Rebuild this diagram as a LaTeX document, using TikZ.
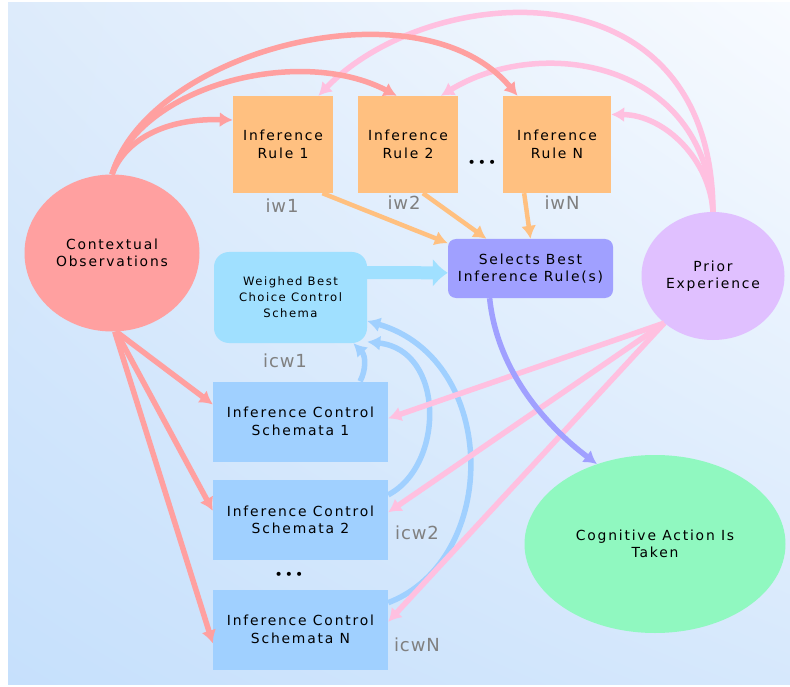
\documentclass[tikz,border=0pt]{standalone}
\usepackage{fontspec}
\setmainfont{DejaVu Sans}[LetterSpace=13]
\newfontfamily\labelfont{DejaVu Sans}[LetterSpace=5]
\usepackage{tikz}
\definecolor{bgtl}{HTML}{DDEBFB}
\definecolor{bgtr}{HTML}{F8FBFF}
\definecolor{bgbl}{HTML}{C6E0FC}
\definecolor{bgbr}{HTML}{D6E8FC}
\definecolor{salmonred}{HTML}{FFA0A0}
\definecolor{rulesorange}{HTML}{FFC080}
\definecolor{selectblue}{HTML}{A0A0FF}
\definecolor{weighblue}{HTML}{A0E0FF}
\definecolor{schemablue}{HTML}{A0D0FF}
\definecolor{priorlilac}{HTML}{E0C0FF}
\definecolor{actiongreen}{HTML}{90F8C0}
\definecolor{arrowpink}{HTML}{FFC0E0}
\definecolor{labelgray}{HTML}{808080}
\usetikzlibrary{arrows.meta, shapes.geometric, shadings}

\begin{document}
\begin{tikzpicture}[x=1pt, y=-1pt,
		>={Latex[length=13pt,width=15pt]},   %Pfeilspitzen
		font=\fontsize{13.9}{17.5}\selectfont, text=black,
		regel/.style={fill=rulesorange, inner sep=0pt, align=center, minimum width=#1, minimum height=97pt},
		schema/.style={fill=schemablue, inner sep=0pt, align=center, minimum width=175pt, minimum height=80pt},
		kreis/.style={ellipse, inner sep=0pt, align=center},
		gewicht/.style={text=labelgray, font=\labelfont\fontsize{18}{20}\selectfont},
		pfeil/.style={->, line width=5.5pt, draw=#1}, pfeil/.default=salmonred]
		%Hintergrund
		\useasboundingbox (0,0) rectangle (790,687);
		\shade[upper left=bgtl, upper right=bgtr, lower left=bgbl, lower right=bgbr] (8,3) rectangle (790,684);
		% Knoten
		\node[kreis, fill=salmonred, minimum width=175pt, minimum height=157pt] (kontext) at (112,253) {Contextual\\Observations};
		\node[regel=100pt] (regel1) at (283,144.5) {Inference\\Rule 1};
		\node[regel=100pt] (regel2) at (408,144.5) {Inference\\Rule 2};
		\node[regel=108pt] (regelN) at (557,144.5) {Inference\\Rule N};
		\node (punkteR) at (482,164) {\textbullet\hspace{2pt}\textbullet\hspace{2pt}\textbullet};
		\node[fill=selectblue, rounded corners=8pt, inner sep=0pt, align=center, minimum width=165pt, minimum height=59pt] (auswahl) at (530.5,268.5) {Selects Best\\Inference Rule(s)};
		\node[fill=weighblue, rounded corners=15pt, inner sep=0pt, align=center, minimum width=153pt, minimum height=91pt, font=\fontsize{11.6}{16}\selectfont] (gewichtet) at (290.5,297.5) {Weighed Best\\Choice Control\\Schema};
		\node[schema] (schema1) at (300.5,421.5) {Inference Control\\Schemata 1};
		\node[schema] (schema2) at (300.5,520) {Inference Control\\Schemata 2};
		\node (punkteS) at (289,576) {\textbullet\hspace{2pt}\textbullet\hspace{2pt}\textbullet};
		\node[schema] (schemaN) at (300.5,629.5) {Inference Control\\Schemata N};
		\node[kreis, fill=priorlilac, minimum width=143pt, minimum height=128pt] (erfahrung) at (713,276) {Prior\\Experience};
		\node[kreis, fill=actiongreen, minimum width=261pt, minimum height=178pt] (aktion) at (655,544) {Cognitive Action Is\\Taken};
		% Gewichte
		\node[gewicht] (iw1) at (282,206) {iw1};
		\node[gewicht] (iw2) at (404,203) {iw2};
		\node[gewicht] (iwN) at (562,203) {iwN};
		\node[gewicht] (icw1) at (285,361) {icw1};
		\node[gewicht] (icw2) at (417,533) {icw2};
		\node[gewicht] (icwN) at (417,645) {icwN};
		% Schemata -> Auswahl
		\draw[pfeil=schemablue] (schema1.34) .. controls (366,370) and (366,356) .. (gewichtet.-36);
		\draw[pfeil=schemablue] (schema2.16) .. controls (445,465) and (445,350) .. (gewichtet.-30);
		\draw[pfeil=schemablue] (schemaN.17) .. controls (500,560) and (500,360) .. (gewichtet.-17);
		\draw[line width=13pt, draw=weighblue, -{Latex[length=15pt,width=29pt]}] (gewichtet.18) -- (auswahl.183);
		% Erfahrung
		\draw[pfeil=arrowpink] (erfahrung.north) .. controls (710,160) and (665,115) .. (regelN.29);
		\draw[pfeil=arrowpink] (erfahrung.north) .. controls (705,60) and (540,35) .. (regel2.56);
		\draw[pfeil=arrowpink] (erfahrung.north) .. controls (712,-40) and (430,-19) .. (regel1.54);
		\draw[pfeil=arrowpink] (erfahrung.224) -- (schema1.2);
		\draw[pfeil=arrowpink] (erfahrung.224) -- (schema2.5);
		\draw[pfeil=arrowpink] (erfahrung.224) -- (schemaN.5);
		% Beobachtungen
		\draw[pfeil] (kontext.north) .. controls (125,140) and (165,118) .. (regel1.154);
		\draw[pfeil] (kontext.north) .. controls (140,85) and (300,45) .. (regel2.103);
		\draw[pfeil] (kontext.north) .. controls (150,50) and (420,-20) .. (regelN.129);
		\draw[pfeil] (kontext.-87) -- (schema1.169);
		\draw[pfeil] (kontext.-87) -- (schema2.174);
		\draw[pfeil] (kontext.-88) -- (schemaN.189);
		% Regeln -> Auswahl
		\draw[pfeil=rulesorange, line width=4.5pt] (regel1.-51) -- (auswahl.163);
		\draw[pfeil=rulesorange, line width=4.5pt] (regel2.-73) -- (auswahl.146);
		\draw[pfeil=rulesorange, line width=4.5pt] (regelN.-124) -- (auswahl.north);
		% Aktion
		\draw[pfeil=selectblue] (auswahl.-144) .. controls (497,370) and (545,425) .. (aktion.126);
	\end{tikzpicture}
\end{document}
